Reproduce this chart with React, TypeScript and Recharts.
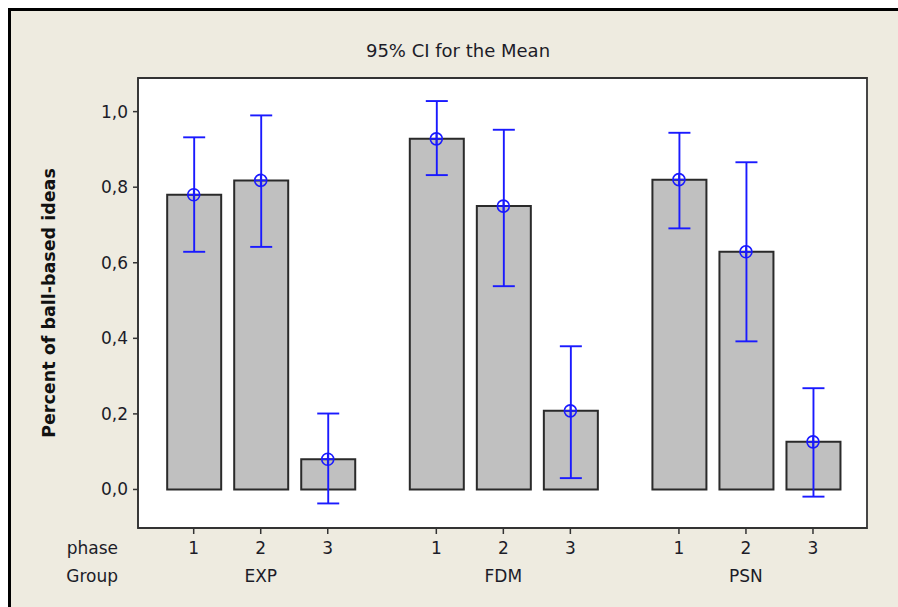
import {
  ComposedChart, Bar, Scatter, ErrorBar, XAxis, YAxis, CartesianGrid, ReferenceArea,
} from 'recharts';

const groups = ['EXP', 'FDM', 'PSN'];
const phases = ['1', '2', '3'];

// group-major order: EXP 1..3, FDM 1..3, PSN 1..3
const means = [0.780, 0.818, 0.080, 0.928, 0.750, 0.208, 0.820, 0.629, 0.126];
const lower = [0.629, 0.642, -0.037, 0.832, 0.538, 0.030, 0.691, 0.392, -0.019];
const upper = [0.932, 0.990, 0.201, 1.028, 0.952, 0.379, 0.944, 0.866, 0.268];

const yTicks = [0, 0.2, 0.4, 0.6, 0.8, 1.0];

const GROUP_STEP = 3.62;
const X_DOMAIN: [number, number] = [0.169, 11.046];
const Y_DOMAIN: [number, number] = [-0.102, 1.089];

const rows = means.map((m, i) => {
  const g = Math.floor(i / phases.length);
  const p = i % phases.length;
  return {
    pos: 1 + g * GROUP_STEP + p,
    phase: phases[p],
    group: groups[g],
    mean: m,
    ci: [m - lower[i], upper[i] - m],
  };
});

const phaseTicks = rows.map((r) => r.pos);
const groupTicks = groups.map((_, g) => 2 + g * GROUP_STEP);

const BLUE = '#1a1aff';
const INK = '#1c1c28';

function CrossCircle(props: any) {
  const { cx, cy } = props;
  if (cx == null || cy == null) return null;
  return (
    <g stroke={BLUE} strokeWidth={1.6} fill="none">
      <circle cx={cx} cy={cy} r={6} />
      <line x1={cx - 6} y1={cy} x2={cx + 6} y2={cy} />
      <line x1={cx} y1={cy - 6} x2={cx} y2={cy + 6} />
    </g>
  );
}

export default function App() {
  return (
    <div
      style={{
        position: 'fixed', top: 8, left: 8, right: 0, bottom: 0,
        background: '#EEEBE0', borderTop: '3px solid #000', borderLeft: '3px solid #000',
        boxSizing: 'border-box', fontFamily: '"DejaVu Sans", sans-serif', overflow: 'hidden',
      }}
    >
      <div
        style={{
          position: 'absolute', left: 0, width: 894, top: 30.6, textAlign: 'center',
          fontSize: 18, lineHeight: '17px', color: INK,
        }}
      >
        95% CI for the Mean
      </div>
      <ComposedChart
        width={887}
        height={596}
        data={rows}
        margin={{ top: 67, right: 31, bottom: 23, left: 17 }}
      >
        <CartesianGrid fill="#fff" horizontal={false} vertical={false} stroke="none" />
        <XAxis
          dataKey="pos"
          type="number"
          domain={X_DOMAIN}
          allowDataOverflow
          ticks={phaseTicks}
          interval={0}
          tickFormatter={(v) => rows.find((r) => Math.abs(r.pos - v) < 1e-6)?.phase ?? ''}
          height={40}
          tickSize={6}
          tickMargin={8}
          axisLine={{ stroke: '#333', strokeWidth: 2 }}
          tickLine={{ stroke: '#333', strokeWidth: 1.5 }}
          tick={{ fontSize: 17, fill: INK }}
          label={{ value: 'phase', position: 'left', offset: 20, fontSize: 17, fill: INK }}
        />
        <XAxis
          xAxisId="group"
          dataKey="pos"
          type="number"
          domain={X_DOMAIN}
          allowDataOverflow
          ticks={groupTicks}
          interval={0}
          tickFormatter={(v) => groups[groupTicks.findIndex((t) => Math.abs(t - v) < 1e-6)] ?? ''}
          height={16}
          tickSize={0}
          tickMargin={2}
          axisLine={false}
          tickLine={false}
          tick={{ fontSize: 17, fill: INK }}
          label={{ value: 'Group', position: 'left', offset: 20, fontSize: 17, fill: INK }}
        />
        <YAxis
          type="number"
          domain={Y_DOMAIN}
          allowDataOverflow
          ticks={yTicks}
          interval={0}
          width={110}
          tickSize={5}
          tickMargin={5}
          tickFormatter={(v) => v.toFixed(1).replace('.', ',')}
          axisLine={{ stroke: '#333', strokeWidth: 1.5 }}
          tickLine={{ stroke: '#333', strokeWidth: 1.5 }}
          tick={{ fontSize: 17, fill: INK }}
          label={{
            value: 'Percent of ball-based ideas',
            angle: -90,
            position: 'insideLeft',
            offset: 21,
            fontSize: 17.5,
            fontWeight: 'bold',
            fill: '#111',
            style: { textAnchor: 'middle' },
          }}
        />
        <ReferenceArea
          x1={X_DOMAIN[0]}
          x2={X_DOMAIN[1]}
          y1={Y_DOMAIN[0]}
          y2={Y_DOMAIN[1]}
          fill="none"
          stroke="#333"
          strokeWidth={1.8}
        />
        <Bar
          dataKey="mean"
          barSize={54}
          fill="#C0C0C0"
          stroke="#2a2a2a"
          strokeWidth={2}
          isAnimationActive={false}
        >
          <ErrorBar dataKey="ci" direction="y" width={11} stroke={BLUE} strokeWidth={1.9} />
        </Bar>
        <Scatter dataKey="mean" shape={<CrossCircle />} isAnimationActive={false} />
      </ComposedChart>
    </div>
  );
}
